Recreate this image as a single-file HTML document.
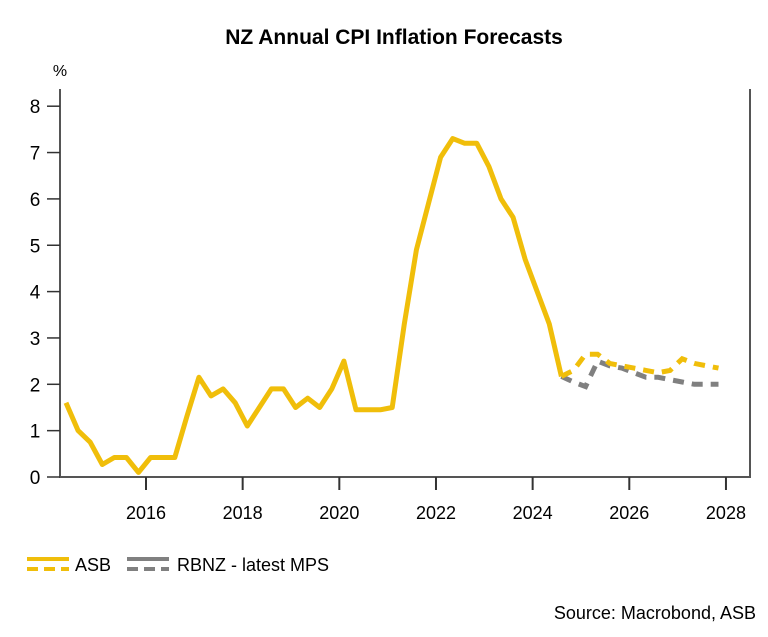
<!DOCTYPE html>
<html><head><meta charset="utf-8"><style>
body{margin:0;background:#fff;font-family:"Liberation Sans",sans-serif}
</style></head><body>
<svg width="768" height="632" xmlns="http://www.w3.org/2000/svg">
<text x="394" y="44" text-anchor="middle" font-size="21" font-weight="bold">NZ Annual CPI Inflation Forecasts</text>
<text x="60" y="76" text-anchor="middle" font-size="16">%</text>
<g id="axes"></g>
<g id="series"></g>
<g>
<g>
<line x1="27" y1="559" x2="69" y2="559" stroke="#F0BE0A" stroke-width="4"/>
<line x1="27" y1="569" x2="69" y2="569" stroke="#F0BE0A" stroke-width="4" stroke-dasharray="11,6"/>
<text x="75" y="571" font-size="18">ASB</text></g>
<g>
<line x1="127" y1="559" x2="169" y2="559" stroke="#808080" stroke-width="4"/>
<line x1="127" y1="569" x2="169" y2="569" stroke="#808080" stroke-width="4" stroke-dasharray="11,6"/>
<text x="177" y="571" font-size="18">RBNZ - latest MPS</text></g>
</g>
<text x="756" y="619" text-anchor="end" font-size="18">Source: Macrobond, ASB</text>
</svg>
<script>
const asbHist=[1.6,1.0,0.75,0.27,0.42,0.42,0.1,0.42,0.42,0.42,1.3,2.15,1.75,1.9,1.6,1.1,1.5,1.9,1.9,1.5,1.7,1.5,1.9,2.5,1.45,1.45,1.45,1.5,3.3,4.9,5.9,6.9,7.3,7.2,7.2,6.7,6.0,5.6,4.7,4.0,3.3,2.17];
const asbFc=[2.17,2.3,2.65,2.65,2.45,2.4,2.35,2.3,2.25,2.3,2.55,2.45,2.4,2.35];
const rbnzFc=[2.17,2.05,1.95,2.5,2.4,2.35,2.25,2.15,2.15,2.1,2.05,2.0,2.0,2.0];
const yTicks=[0,1,2,3,4,5,6,7,8];
const xTicks=[2016,2018,2020,2022,2024,2026,2028];
const startYear=2014.345;
const NS="http://www.w3.org/2000/svg";
const X=t=>146+(t-2016)*48.33, Y=v=>477-v*46.35;
function mk(tag,attrs,parent){const e=document.createElementNS(NS,tag);for(const k in attrs)e.setAttribute(k,attrs[k]);parent.appendChild(e);return e;}
const ax=document.getElementById('axes'), sr=document.getElementById('series');
let frame=mk('path',{d:'M60 89V477H750V89',fill:'none',stroke:'#555','stroke-width':2},ax);


yTicks.forEach(v=>{
  let l=mk('line',{x1:47,x2:60,y1:Y(v),y2:Y(v),stroke:'#333','stroke-width':1.5},ax);
  
  
  let t=mk('text',{x:35,y:Y(v)+7,'text-anchor':'middle','font-size':19},ax);t.textContent=v;
  
  
});
xTicks.forEach(v=>{
  let l=mk('line',{x1:X(v),x2:X(v),y1:477,y2:490,stroke:'#333','stroke-width':2},ax);
  
  
  let t=mk('text',{x:X(v),y:519,'text-anchor':'middle','font-size':18},ax);t.textContent=v;
  
  
});
function pts(arr,off){return arr.map((v,i)=>X(startYear+(off+i)*0.25).toFixed(1)+','+Y(v).toFixed(1)).join(' ');}
const fcOff=asbHist.length-1;
let r=mk('polyline',{points:pts(rbnzFc,fcOff),fill:'none',stroke:'#808080','stroke-width':5,'stroke-dasharray':'11,8'},sr);


let a=mk('polyline',{points:pts(asbFc,fcOff),fill:'none',stroke:'#F0BE0A','stroke-width':5,'stroke-dasharray':'11,8'},sr);


let h=mk('polyline',{points:pts(asbHist,0),fill:'none',stroke:'#F0BE0A','stroke-width':5,'stroke-linejoin':'round'},sr);


</script>
</body></html>
